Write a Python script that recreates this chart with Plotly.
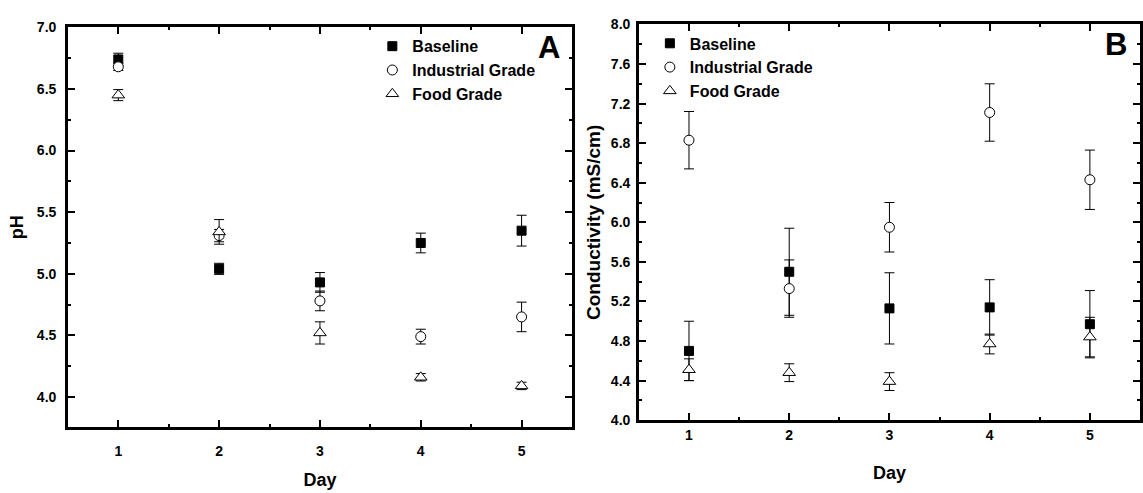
import plotly.graph_objects as go

days = [1, 2, 3, 4, 5]

# Panel A: pH
ph_baseline = [6.74, 5.04, 4.93, 5.25, 5.35]
ph_baseline_err = [0.05, 0.045, 0.08, 0.08, 0.125]
ph_industrial = [6.68, 5.31, 4.78, 4.49, 4.65]
ph_industrial_err = [0.03, 0.05, 0.08, 0.06, 0.12]
ph_food = [6.45, 5.34, 4.52, 4.16, 4.09]
ph_food_err = [0.045, 0.10, 0.09, 0.03, 0.03]

# Panel B: Conductivity (mS/cm)
cond_baseline = [4.70, 5.50, 5.13, 5.14, 4.97]
cond_baseline_err = [0.30, 0.44, 0.36, 0.28, 0.34]
cond_industrial = [6.83, 5.33, 5.95, 7.11, 6.43]
cond_industrial_err = [0.29, 0.29, 0.25, 0.29, 0.30]
cond_food = [4.51, 4.48, 4.39, 4.77, 4.84]
cond_food_err = [0.11, 0.09, 0.09, 0.10, 0.20]

series_names = ["Baseline", "Industrial Grade", "Food Grade"]

W, H = 1143, 493
FONT = "Liberation Sans, Arial, sans-serif"

styles = [
    dict(symbol="square", size=9, color="black", line=dict(color="black", width=1)),
    dict(symbol="circle", size=10, color="white", line=dict(color="black", width=1)),
    dict(symbol="triangle-up", size=11, color="white", line=dict(color="black", width=1)),
]

fig = go.Figure()

def add_panel(values, errs, xaxis, yaxis, legend):
    for name, v, e, st in zip(series_names, values, errs, styles):
        fig.add_trace(go.Scatter(
            x=days, y=v, mode="markers", name=name,
            xaxis=xaxis, yaxis=yaxis, legend=legend,
            marker=st,
            error_y=dict(type="data", array=e, visible=True,
                         color="black", thickness=1, width=5),
        ))

add_panel([ph_baseline, ph_industrial, ph_food],
          [ph_baseline_err, ph_industrial_err, ph_food_err], "x", "y", "legend")
add_panel([cond_baseline, cond_industrial, cond_food],
          [cond_baseline_err, cond_industrial_err, cond_food_err], "x2", "y2", "legend2")

def px_x(p):
    return p / W

def px_y(p):
    return 1 - p / H

minor_common = dict(ticks="inside", ticklen=3, tickwidth=2, tickcolor="black")

axis_common = dict(
    showline=True, linecolor="black", linewidth=2.5, mirror="allticks",
    ticks="inside", tickcolor="black", tickwidth=2, ticklen=7,
    showgrid=False, zeroline=False,
    tickfont=dict(family=FONT, size=14, color="black", weight="bold"),
)

def title(text, size):
    return dict(text=text, font=dict(family=FONT, size=size, color="black", weight="bold"))

fig.update_layout(
    width=W, height=H,
    margin=dict(l=0, r=0, t=0, b=0),
    paper_bgcolor="white", plot_bgcolor="white",
    font=dict(family=FONT, color="black"),
    xaxis=dict(axis_common, domain=[px_x(68), px_x(573)], range=[0.5, 5.5],
               tick0=1, dtick=1, anchor="y", ticklabelstandoff=10,
               title=dict(title("Day", 18), standoff=15),
               minor=dict(minor_common, dtick=0.5, tick0=0.5)),
    yaxis=dict(axis_common, domain=[px_y(433), px_y(20)], range=[3.757, 7.0],
               tick0=4, dtick=0.5, tickformat=".1f", anchor="x", ticklabelstandoff=6,
               title=dict(title("pH", 18), standoff=9),
               minor=dict(minor_common, dtick=0.25, tick0=4)),
    xaxis2=dict(axis_common, domain=[px_x(640), px_x(1142)], range=[0.5, 5.5],
                tick0=1, dtick=1, anchor="y2",
                title=dict(title("Day", 18), standoff=25),
                minor=dict(minor_common, dtick=0.5, tick0=0.5)),
    yaxis2=dict(axis_common, domain=[px_y(426), px_y(17)], range=[4.0, 8.0],
                tick0=4, dtick=0.4, tickformat=".1f", anchor="x2", ticklabelstandoff=3,
                title=dict(title("Conductivity (mS/cm)", 19), standoff=6),
                minor=dict(minor_common, dtick=0.2, tick0=4)),
    legend=dict(x=px_x(373), y=px_y(22), xanchor="left", yanchor="top",
                bgcolor="rgba(0,0,0,0)",
                font=dict(family=FONT, size=16, color="black", weight="bold")),
    legend2=dict(x=px_x(651), y=px_y(19), xanchor="left", yanchor="top",
                 bgcolor="rgba(0,0,0,0)",
                 font=dict(family=FONT, size=16, color="black", weight="bold")),
    annotations=[
        dict(text="A", x=px_x(550), y=px_y(41), xref="paper", yref="paper",
             xanchor="center", yanchor="middle", showarrow=False,
             font=dict(family=FONT, size=31, color="black", weight="bold")),
        dict(text="B", x=px_x(1118), y=px_y(38), xref="paper", yref="paper",
             xanchor="center", yanchor="middle", showarrow=False,
             font=dict(family=FONT, size=31, color="black", weight="bold")),
    ],
)

fig.write_html("out.html")
